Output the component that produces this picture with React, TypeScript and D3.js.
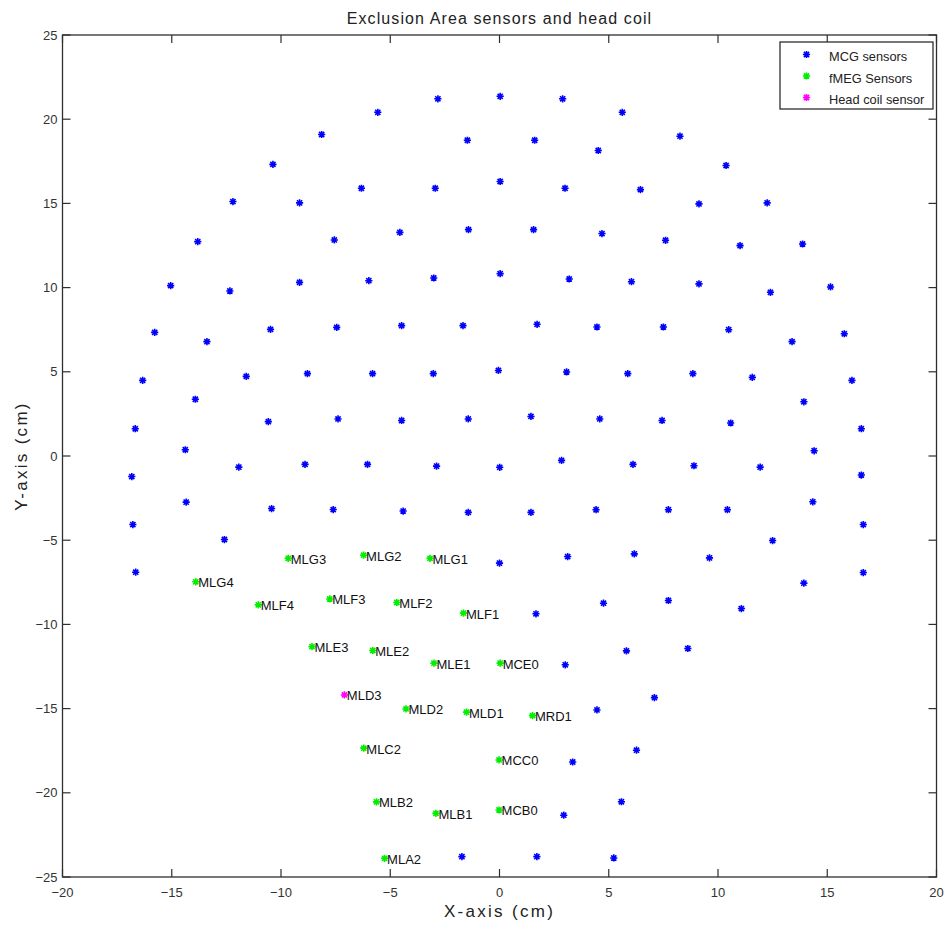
import React from "react";
import * as d3 from "d3";

// MCG sensor positions (cm)
const mcgSensors: [number, number][] = [
  [-2.82, 21.21], [0.03, 21.36], [2.89, 21.21], [5.62, 20.41], [8.26, 18.99],
  [-5.57, 20.41], [-8.14, 19.09], [-10.37, 17.32], [10.37, 17.25], [-12.2, 15.11],
  [12.25, 15.03], [-13.81, 12.73], [13.87, 12.59], [-15.05, 10.12], [15.15, 10.04],
  [-15.78, 7.34], [15.78, 7.26], [-16.33, 4.49], [16.13, 4.49], [-16.67, 1.62],
  [16.56, 1.62], [-16.83, -1.22], [16.56, -1.13], [-16.78, -4.07], [16.65, -4.07],
  [-16.65, -6.9], [16.65, -6.92],
  [-1.47, 18.75], [1.61, 18.75], [4.52, 18.14], [-6.32, 15.9], [-9.15, 15.03],
  [-2.94, 15.9], [0.03, 16.3], [3.0, 15.9], [6.45, 15.82], [9.13, 14.97],
  [-4.56, 13.28], [-7.56, 12.83], [-1.42, 13.44], [1.56, 13.44], [4.69, 13.21],
  [7.6, 12.81], [11.01, 12.49],
  [-12.34, 9.8], [-9.15, 10.31], [-5.98, 10.41], [-3.01, 10.57], [0.03, 10.83],
  [3.19, 10.51], [6.04, 10.35], [9.13, 10.22], [12.4, 9.72],
  [-13.39, 6.79], [-10.48, 7.52], [-7.45, 7.64], [-4.48, 7.74], [-1.67, 7.74],
  [1.72, 7.82], [4.46, 7.66], [7.5, 7.66], [10.49, 7.5], [13.39, 6.79],
  [-11.59, 4.73], [-8.79, 4.89], [-5.81, 4.89], [-3.03, 4.89], [-0.05, 5.08],
  [3.07, 4.99], [5.87, 4.89], [8.85, 4.89], [11.57, 4.67],
  [-13.92, 3.37], [13.93, 3.22],
  [-10.58, 2.04], [-7.39, 2.2], [-4.48, 2.11], [-1.43, 2.2], [1.44, 2.35],
  [4.59, 2.2], [7.44, 2.11], [10.58, 1.96],
  [-14.38, 0.37], [14.4, 0.31],
  [-11.93, -0.66], [-8.9, -0.5], [-6.04, -0.5], [-2.88, -0.6], [0.01, -0.67],
  [2.84, -0.26], [6.11, -0.5], [8.9, -0.58], [11.93, -0.66],
  [-14.34, -2.74], [14.34, -2.72],
  [-10.43, -3.12], [-7.61, -3.18], [-4.41, -3.27], [-1.43, -3.35], [1.44, -3.35],
  [4.42, -3.19], [7.73, -3.19], [10.43, -3.19],
  [-12.59, -4.96], [12.5, -5.02],
  [0.0, -6.36], [3.12, -5.97], [6.17, -5.81], [9.61, -6.05], [13.93, -7.55],
  [1.67, -9.37], [4.76, -8.74], [7.73, -8.58], [11.07, -9.06],
  [3.01, -12.4], [5.81, -11.57], [8.62, -11.43],
  [4.46, -15.08], [7.09, -14.35],
  [3.35, -18.17], [6.27, -17.47],
  [2.94, -21.33], [5.58, -20.53],
  [-1.72, -23.79], [1.71, -23.79], [5.23, -23.87],
];

// fMEG sensors inside the exclusion area
const fmegNames = [
  "MLG4", "MLG3", "MLG2", "MLG1", "MLF4", "MLF3", "MLF2", "MLF1",
  "MLE3", "MLE2", "MLE1", "MCE0", "MLD2", "MLD1", "MRD1", "MLC2",
  "MCC0", "MLB2", "MLB1", "MCB0", "MLA2",
];
const fmegX = [
  -13.9, -9.67, -6.22, -3.18, -11.04, -7.77, -4.7, -1.65,
  -8.58, -5.8, -3.0, 0.03, -4.28, -1.51, 1.51, -6.21,
  -0.02, -5.63, -2.91, -0.02, -5.26,
];
const fmegY = [
  -7.47, -6.08, -5.89, -6.08, -8.84, -8.49, -8.7, -9.33,
  -11.32, -11.55, -12.3, -12.3, -15.02, -15.21, -15.42, -17.35,
  -18.05, -20.54, -21.22, -21.02, -23.89,
];

// head coil sensor
const headCoilName = ["MLD3"];
const headCoilX = [-7.1];
const headCoilY = [-14.19];

const xTickValues = [-20, -15, -10, -5, 0, 5, 10, 15, 20];
const yTickValues = [-25, -20, -15, -10, -5, 0, 5, 10, 15, 20, 25];

const legendItems = ["MCG sensors", "fMEG Sensors", "Head coil sensor"];
const legendColors = ["#0000ff", "#00ee00", "#ff00ff"];

const FONT = "'Liberation Sans', Arial, Helvetica, sans-serif";
const AXIS = "#2e2e2e";

function starPath(s: number) {
  const d = s * 0.72;
  return `M${-s},0L${s},0M0,${-s}L0,${s}M${-d},${-d}L${d},${d}M${-d},${d}L${d},${-d}`;
}

export default function App() {
  const W = 947;
  const H = 925;
  const left = 62.5, right = 936.5, top = 35, bottom = 877;
  const x = d3.scaleLinear().domain([-20, 20]).range([left, right]);
  const y = d3.scaleLinear().domain([-25, 25]).range([bottom, top]);
  const fmt = d3.format("d");
  const star = starPath(3.6);
  const tick = 8;

  const fmeg = fmegNames.map((n, i) => ({ n, x: fmegX[i], y: fmegY[i] }));
  const head = headCoilName.map((n, i) => ({ n, x: headCoilX[i], y: headCoilY[i] }));

  const lg = { x: 780, y: 42, w: 153, h: 67 };

  return (
    <svg
      width={W}
      height={H}
      style={{ position: "absolute", left: 0, top: 0, background: "#fff" }}
      fontFamily={FONT}
    >
      <rect width={W} height={H} fill="#fff" />

      {/* title and axis labels */}
      <text x={(left + right) / 2} y={18} textAnchor="middle" dominantBaseline="central" fontSize={16} letterSpacing={1.1} fill="#222">
        Exclusion Area sensors and head coil
      </text>
      <text x={(left + right) / 2} y={911} textAnchor="middle" dominantBaseline="central" fontSize={17} letterSpacing={2.3} fill="#222">
        X-axis (cm)
      </text>
      <text
        transform={`translate(21,${(top + bottom) / 2}) rotate(-90)`}
        textAnchor="middle"
        dominantBaseline="central"
        fontSize={17}
        letterSpacing={2.3}
        fill="#222"
      >
        Y-axis (cm)
      </text>

      {/* axes box */}
      <rect x={left} y={top} width={right - left} height={bottom - top} fill="none" stroke={AXIS} strokeWidth={1.3} />

      {/* x ticks (bottom and top, inward) */}
      {xTickValues.map((v) => (
        <g key={"xt" + v}>
          <line x1={x(v)} x2={x(v)} y1={bottom} y2={bottom - tick} stroke={AXIS} strokeWidth={1.2} />
          <line x1={x(v)} x2={x(v)} y1={top} y2={top + tick} stroke={AXIS} strokeWidth={1.2} />
          <text x={x(v)} y={bottom + 15} textAnchor="middle" dominantBaseline="central" fontSize={13} fill="#333">
            {fmt(v)}
          </text>
        </g>
      ))}

      {/* y ticks (left and right, inward) */}
      {yTickValues.map((v) => (
        <g key={"yt" + v}>
          <line x1={left} x2={left + tick} y1={y(v)} y2={y(v)} stroke={AXIS} strokeWidth={1.2} />
          <line x1={right} x2={right - tick} y1={y(v)} y2={y(v)} stroke={AXIS} strokeWidth={1.2} />
          <text x={left - 5} y={y(v)} textAnchor="end" dominantBaseline="central" fontSize={13} fill="#333">
            {fmt(v)}
          </text>
        </g>
      ))}

      {/* MCG sensors */}
      {mcgSensors.map(([a, b], i) => (
        <path key={"m" + i} d={star} transform={`translate(${x(a)},${y(b)})`} stroke="#0000ff" strokeWidth={1.6} fill="none" />
      ))}

      {/* fMEG sensors with labels */}
      {fmeg.map((s) => (
        <g key={s.n} transform={`translate(${x(s.x)},${y(s.y)})`}>
          <path d={star} stroke="#00ee00" strokeWidth={1.6} fill="none" />
          <text x={2.5} y={1} dominantBaseline="central" fontSize={13} fill="#111">
            {s.n}
          </text>
        </g>
      ))}

      {/* head coil sensor */}
      {head.map((s) => (
        <g key={s.n} transform={`translate(${x(s.x)},${y(s.y)})`}>
          <path d={star} stroke="#ff00ff" strokeWidth={1.6} fill="none" />
          <text x={2.5} y={1} dominantBaseline="central" fontSize={13} fill="#111">
            {s.n}
          </text>
        </g>
      ))}

      {/* legend */}
      <g>
        <rect x={lg.x} y={lg.y} width={lg.w} height={lg.h} fill="#fff" stroke={AXIS} strokeWidth={1.3} />
        {legendItems.map((t, i) => (
          <g key={t} transform={`translate(${lg.x},${lg.y + 13.5 + i * 21.5})`}>
            <path d={star} transform="translate(26.5,-1)" stroke={legendColors[i]} strokeWidth={1.6} fill="none" />
            <text x={49} y={1} dominantBaseline="central" fontSize={12.8} fill="#222">
              {t}
            </text>
          </g>
        ))}
      </g>
    </svg>
  );
}
